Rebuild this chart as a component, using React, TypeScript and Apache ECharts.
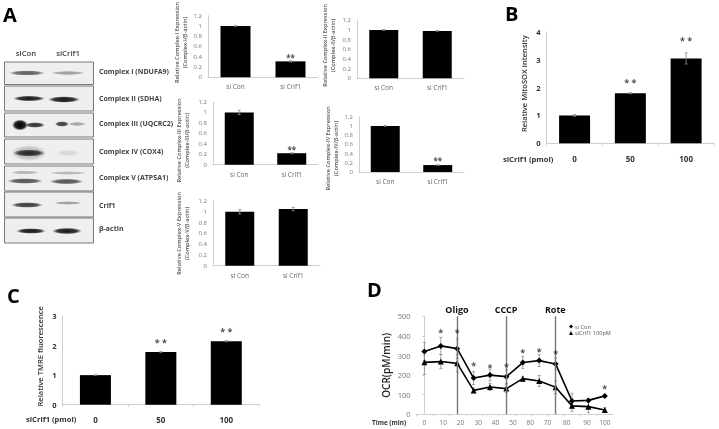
import React, { useEffect, useRef } from "react";
import * as echarts from "echarts";

const FONT = '"Open Sans", sans-serif';

const smallCategories = ["si Con", "si Crif1"];
const doseCategories = ["0", "50", "100"];

const complex1Values = [1, 0.31];
const complex1Errors = [0.01, 0.01];
const complex1Stars = [null, 0.39];
const complex2Values = [1, 0.98];
const complex2Errors = [0.01, 0.01];
const complex2Stars = [null, null];
const complex3Values = [1, 0.22];
const complex3Errors = [0.04, 0.01];
const complex3Stars = [null, 0.3];
const complex4Values = [1, 0.15];
const complex4Errors = [0.01, 0.01];
const complex4Stars = [null, 0.24];
const complex5Values = [1, 1.05];
const complex5Errors = [0.04, 0.03];
const complex5Stars = [null, null];

const mitosoxValues = [1, 1.8, 3.05];
const mitosoxErrors = [0.03, 0.02, 0.2];
const mitosoxStars = [null, 2.2, 3.69];

const tmreValues = [1, 1.78, 2.15];
const tmreErrors = [0.01, 0.02, 0.02];
const tmreStars = [null, 2.12, 2.47];

const ocrSiCon = [320, 349, 335, 185, 200, 192, 264, 274, 257, 68, 71, 94];
const ocrSiConErrors = [46, 44, 50, 33, 30, 34, 30, 30, 30, 39, 8, 8];
const ocrSiCrif1 = [265, 269, 260, 122, 139, 131, 182, 170, 138, 43, 39, 22];
const ocrSiCrif1Errors = [62, 36, 45, 12, 18, 20, 12, 28, 33, 28, 30, 12];
const ocrStars = [null, 417, 417, 247, 240, 243, 313, 322, 312, null, null, 130];
const timeLabels = ["0", "10", "20", "30", "40", "50", "60", "70", "80", "90", "100"];
const timeLabelSlots = [0, 1.15, 2.2, 3.28, 4.33, 5.4, 6.45, 7.5, 8.68, 9.91, 11];
const treatmentNames = ["Oligo", "CCCP", "Rote"];
const treatmentSlots = [1.98, 4.98, 7.98];

const blotLabels = [
  "Complex I (NDUFA9)",
  "Complex II (SDHA)",
  "Complex III (UQCRC2)",
  "Complex IV (COX4)",
  "Complex V (ATP5A1)",
  "Crif1",
  "β-actin",
];

function renderError(_params: any, api: any) {
  const x = api.value(0);
  const v = api.value(1);
  const e = api.value(2);
  const hi = api.coord([x, v + e]);
  const lo = api.coord([x, v - e]);
  const style = { stroke: "#8c8c8c", lineWidth: 0.8, fill: "none" };
  const cap = 1.5;
  return {
    type: "group",
    children: [
      { type: "line", shape: { x1: hi[0], y1: hi[1], x2: lo[0], y2: lo[1] }, style },
      { type: "line", shape: { x1: hi[0] - cap, y1: hi[1], x2: hi[0] + cap, y2: hi[1] }, style },
      { type: "line", shape: { x1: lo[0] - cap, y1: lo[1], x2: lo[0] + cap, y2: lo[1] }, style },
    ],
  };
}

function starSeries(stars: (number | null)[], xIndex: number, text: string, fontSize: number) {
  return {
    type: "scatter",
    xAxisIndex: xIndex,
    yAxisIndex: xIndex,
    symbolSize: 0,
    silent: true,
    z: 6,
    data: stars.map((s, i) => [i, s]).filter((d) => d[1] !== null),
    label: {
      show: true,
      position: "inside",
      formatter: text,
      fontFamily: FONT,
      fontWeight: "bold",
      fontSize,
      color: "#222",
      offset: [0, 0],
    },
  };
}

export default function App() {
  const ref = useRef<HTMLDivElement>(null);
  useEffect(() => {
    const chart = echarts.init(ref.current!, null, { renderer: "svg" });

    const panels = [
      { g: [208, 12, 110, 65.3], cats: smallCategories, v: complex1Values, e: complex1Errors, s: complex1Stars, max: 1.2, step: 0.2, bw: 30, name: "Relative Complex-I Expression\n(Complex-I/β-actin)", gap: 19, up: 4, kind: "small" },
      { g: [357, 20.3, 107, 58], cats: smallCategories, v: complex2Values, e: complex2Errors, s: complex2Stars, max: 1.2, step: 0.2, bw: 29, name: "Relative Complex-II Expression\n(Complex-II/β-actin)", gap: 20, up: 4, kind: "small" },
      { g: [213, 102, 105, 62.7], cats: smallCategories, v: complex3Values, e: complex3Errors, s: complex3Stars, max: 1.2, step: 0.2, bw: 29, name: "Relative Complex-III Expression\n(Complex-III/β-actin)", gap: 22, up: -7, kind: "small" },
      { g: [359, 116.7, 105, 55.3], cats: smallCategories, v: complex4Values, e: complex4Errors, s: complex4Stars, max: 1.2, step: 0.2, bw: 29, name: "Relative Complex-IV Expression\n(Complex-IV/β-actin)", gap: 19, up: -4, kind: "small" },
      { g: [213, 201, 107, 64.7], cats: smallCategories, v: complex5Values, e: complex5Errors, s: complex5Stars, max: 1.2, step: 0.2, bw: 29, name: "Relative Complex-V Expression\n(Complex-V/β-actin)", gap: 22, up: 0, kind: "small" },
      { g: [546.7, 32, 167.3, 111.3], cats: doseCategories, v: mitosoxValues, e: mitosoxErrors, s: mitosoxStars, max: 4, step: 1, bw: 31, name: "Relative MitoSOX intensity", gap: 18, up: 4, kind: "dose" },
      { g: [62.7, 316, 196.3, 88.7], cats: doseCategories, v: tmreValues, e: tmreErrors, s: tmreStars, max: 3, step: 1, bw: 31, name: "Relative TMRE fluorescence", gap: 18, up: 4, kind: "dose" },
    ];

    const grids: any[] = [];
    const xAxes: any[] = [];
    const yAxes: any[] = [];
    const series: any[] = [];

    panels.forEach((p, i) => {
      const small = p.kind === "small";
      grids.push({ left: p.g[0], top: p.g[1], width: p.g[2], height: p.g[3] });
      xAxes.push({
        type: "category",
        gridIndex: i,
        data: p.cats,
        axisLine: { lineStyle: { color: "#cfcfcf", width: 1 } },
        axisTick: { show: !small, length: 2, lineStyle: { color: "#cfcfcf" } },
        axisLabel: small
          ? { fontFamily: FONT, fontSize: 6.5, color: "#666", margin: 6 }
          : { fontFamily: FONT, fontSize: 8, fontWeight: "bold", color: "#333", margin: 11 },
      });
      yAxes.push({
        type: "value",
        gridIndex: i,
        min: 0,
        max: p.max,
        interval: p.step,
        splitLine: { show: false },
        axisLine: { show: true, lineStyle: { color: "#cfcfcf", width: 1 } },
        axisTick: { show: false },
        axisLabel: small
          ? { fontFamily: FONT, fontSize: 6, color: "#777", margin: 6 }
          : { fontFamily: FONT, fontSize: 7.6, fontWeight: "bold", color: "#333", margin: 6 },
        name: p.name,
        nameLocation: "middle",
        nameRotate: 90,
        nameGap: p.gap,
        nameTextStyle: {
          fontFamily: FONT,
          fontSize: small ? 5.6 : 7.6,
          fontWeight: "600",
          color: small ? "#555" : "#333",
          lineHeight: small ? 8 : 10,
          padding: p.up > 0 ? [0, 0, 0, p.up * 2] : [0, -p.up * 2, 0, 0],
        },
      });
      series.push({
        type: "bar",
        xAxisIndex: i,
        yAxisIndex: i,
        data: p.v,
        barWidth: p.bw,
        itemStyle: { color: "#000" },
        silent: true,
        z: 2,
      });
      series.push({
        type: "custom",
        xAxisIndex: i,
        yAxisIndex: i,
        renderItem: renderError,
        data: p.v.map((v, k) => [k, v, p.e[k]]),
        silent: true,
        z: 3,
      });
      series.push(starSeries(p.s as any, i, small ? "**" : "* *", small ? 8 : 9));
    });

    const d = panels.length;
    grids.push({ left: 416.7, top: 316.3, width: 196.3, height: 98 });
    xAxes.push({
      type: "value",
      gridIndex: d,
      min: -0.47,
      max: 11.5,
      splitLine: { show: false },
      axisLine: { lineStyle: { color: "#cfcfcf" } },
      axisTick: { show: true, length: 2, lineStyle: { color: "#cfcfcf" }, customValues: ocrSiCon.map((_, i) => i - 0.47) },
      axisLabel: {
        fontFamily: FONT,
        fontSize: 6.5,
        color: "#777",
        margin: 5,
        customValues: timeLabelSlots,
        formatter: (v: number) => timeLabels[timeLabelSlots.indexOf(v)] ?? "",
      },
    });
    yAxes.push({
      type: "value",
      gridIndex: d,
      min: 0,
      max: 500,
      interval: 100,
      splitLine: { show: false },
      axisLine: { show: true, lineStyle: { color: "#cfcfcf" } },
      axisTick: { show: true, length: 2, lineStyle: { color: "#cfcfcf" } },
      axisLabel: { fontFamily: FONT, fontSize: 7.6, color: "#777", margin: 6 },
      name: "OCR(pM/min)",
      nameLocation: "middle",
      nameRotate: 90,
      nameGap: 26,
      nameTextStyle: { fontFamily: FONT, fontSize: 10, fontWeight: "600", color: "#222" },
    });
    const lineBase = {
      type: "line",
      xAxisIndex: d,
      yAxisIndex: d,
      symbolSize: 6,
      silent: true,
      z: 4,
      lineStyle: { color: "#000", width: 1.6 },
      itemStyle: { color: "#000" },
    };
    series.push({
      ...lineBase,
      name: "si Con",
      symbol: "diamond",
      data: ocrSiCon.map((v, i) => [i, v]),
      markLine: {
        silent: true,
        symbol: "none",
        animation: false,
        lineStyle: { color: "#777", width: 1.4, type: "solid" },
        data: treatmentNames.map((n, i) => ({
          xAxis: treatmentSlots[i],
          name: n,
          label: {
            show: true,
            position: "end",
            formatter: n,
            fontFamily: FONT,
            fontSize: 9,
            fontWeight: "bold",
            color: "#111",
            distance: 2,
          },
        })),
      },
    });
    series.push({
      ...lineBase,
      name: "siCrif1 100pM",
      symbol: "triangle",
      data: ocrSiCrif1.map((v, i) => [i, v]),
    });
    series.push({
      type: "custom", xAxisIndex: d, yAxisIndex: d, renderItem: renderError, silent: true, z: 3,
      data: ocrSiCon.map((v, i) => [i, v, ocrSiConErrors[i]]),
    });
    series.push({
      type: "custom", xAxisIndex: d, yAxisIndex: d, renderItem: renderError, silent: true, z: 3,
      data: ocrSiCrif1.map((v, i) => [i, v, ocrSiCrif1Errors[i]]),
    });
    series.push(starSeries(ocrStars as any, d, "*", 9));

    const txt = (text: string, x: number, y: number, size: number, weight: string, fill: string, align = "left") => ({
      type: "text",
      x,
      y,
      silent: true,
      style: { text, fontFamily: FONT, fontSize: size, fontWeight: weight, fill, align, verticalAlign: "middle" },
    });

    const rows = [[62, 84.5], [86, 111], [113, 137], [139, 164], [166, 191], [192, 217], [218, 243]];
    const labelY = [71, 98, 123, 151, 177, 205, 228];
    const bands: number[][] = [
      [29, 153, 18, 8, 0.2],
      [27, 73, 18, 2.6, 0.6], [68, 73, 17, 2, 0.35],
      [29, 98.5, 16, 2.8, 0.9], [64, 99.5, 16, 3.2, 0.9],
      [20, 125, 8, 5.5, 1], [35, 125, 10, 2.8, 0.8], [62, 124, 7, 2.8, 0.75], [77, 124, 9, 2, 0.32],
      [29, 153, 16, 3.6, 0.8], [68, 153, 12, 3, 0.1],
      [25, 172.5, 15, 1.8, 0.25], [25, 181, 18, 2.8, 0.65], [68, 173, 19, 1.8, 0.25], [66.5, 181.5, 17, 2.8, 0.65],
      [27, 205, 16, 2.8, 0.75], [68, 203, 14, 1.8, 0.35],
      [31, 231, 15, 2.8, 0.9], [67, 231, 15, 3.2, 0.9],
    ];
    const graphic: any[] = [
      txt("A", 3, 14, 20, "bold", "#000"),
      txt("B", 505, 13, 20, "bold", "#000"),
      txt("C", 7, 295, 20, "bold", "#000"),
      txt("D", 367, 289, 20, "bold", "#000"),
      txt("siCon", 26, 53, 7.8, "600", "#444", "center"),
      txt("siCrif1", 68, 53, 7.8, "600", "#444", "center"),
      txt("siCrif1 (pmol)", 503, 159, 7.6, "bold", "#333"),
      txt("siCrif1 (pmol)", 26, 418.7, 7.6, "bold", "#333"),
      txt("Time (min)", 372, 422.8, 6.4, "bold", "#333"),
    ];
    rows.forEach((r, i) => {
      graphic.push({
        type: "rect",
        silent: true,
        shape: { x: 4.5, y: r[0], width: 89, height: r[1] - r[0] },
        style: { fill: "#efefef", stroke: "#777", lineWidth: 1 },
      });
      graphic.push(txt(blotLabels[i], 99, labelY[i], 7, "bold", "#444"));
    });
    bands.forEach((b) => {
      graphic.push({
        type: "ellipse",
        silent: true,
        z: 2,
        shape: { cx: b[0], cy: b[1], rx: b[2], ry: b[3] },
        style: {
          fill: {
            type: "radial",
            x: 0.5,
            y: 0.5,
            r: 0.5,
            colorStops: [
              { offset: 0, color: `rgba(0,0,0,${b[4]})` },
              { offset: 0.65, color: `rgba(0,0,0,${b[4] * 0.85})` },
              { offset: 1, color: "rgba(0,0,0,0)" },
            ],
          },
        },
      });
    });

    chart.setOption({
      animation: false,
      backgroundColor: "#fff",
      textStyle: { fontFamily: FONT },
      legend: {
        data: [
          { name: "si Con", icon: "diamond" },
          { name: "siCrif1 100pM", icon: "triangle" },
        ],
        orient: "vertical",
        left: 569,
        top: 323.5,
        padding: 0,
        itemGap: 0.5,
        itemWidth: 4,
        itemHeight: 4,
        textStyle: { fontFamily: FONT, fontSize: 5.6, color: "#555", padding: [0, 0, 0, -3] },
      },
      grid: grids,
      xAxis: xAxes,
      yAxis: yAxes,
      series,
      graphic,
    });
    return () => chart.dispose();
  }, []);
  return (
    <div
      ref={ref}
      style={{ position: "absolute", left: 0, top: 0, width: 719, height: 429, filter: "blur(0.45px)" }}
    />
  );
}
